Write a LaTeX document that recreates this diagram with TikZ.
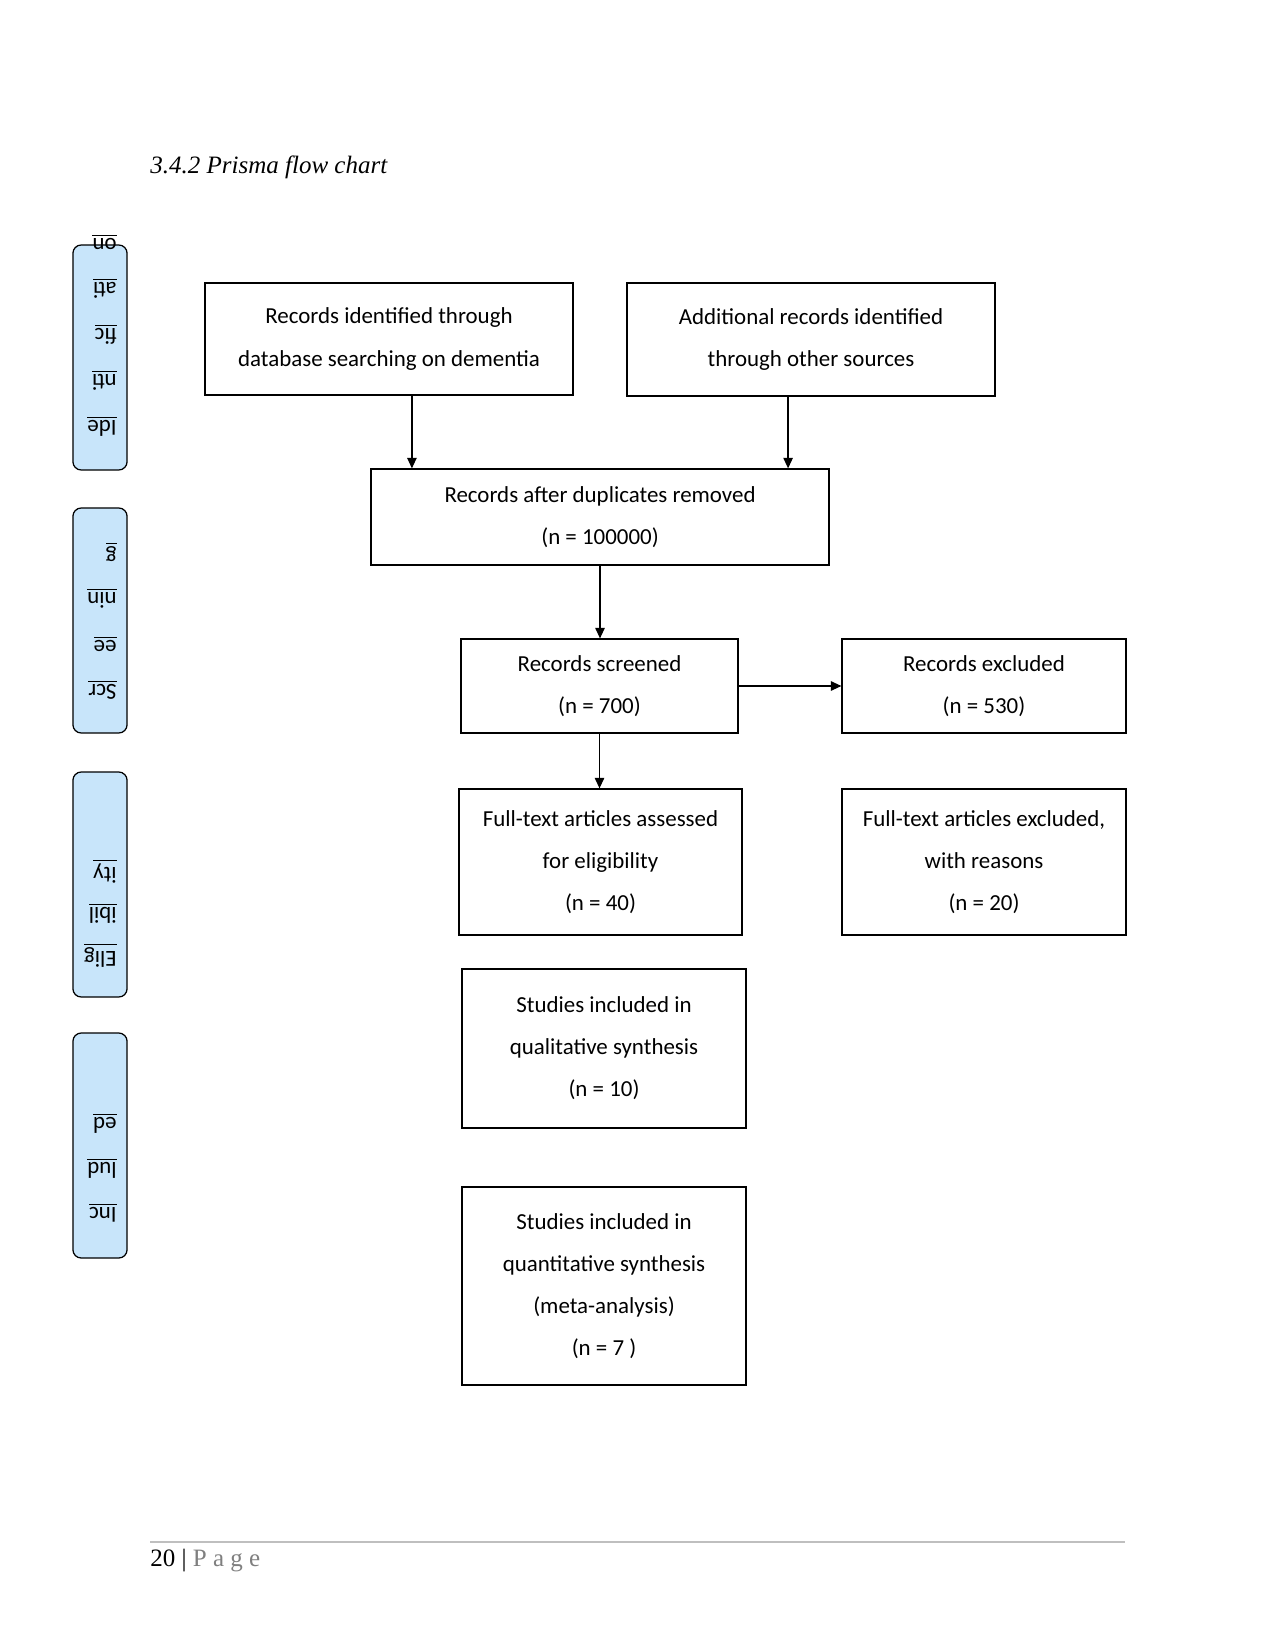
\documentclass[tikz,border=0pt]{standalone}
\usepackage{fontspec}
\setmainfont{Carlito}
\newfontfamily\serifpage{Liberation Serif}
\usepackage{xcolor}
\usetikzlibrary{arrows.meta}
\definecolor{sideblue}{RGB}{200,229,250}
\definecolor{pagegray}{RGB}{127,127,127}
\tikzset{
  flowbox/.style={draw, line width=0.6pt, align=center, inner sep=0pt,
    font=\fontsize{11}{20.2}\selectfont},
  sidebox/.style={draw, line width=0.6pt, fill=sideblue, rounded corners=4pt,
    minimum width=26pt, minimum height=108pt, inner sep=0pt},
  frag/.style={rotate=180, anchor=west, inner sep=0pt, font=\fontsize{11}{13}\selectfont},
  arr/.style={line width=0.6pt, -{Triangle[length=5pt,width=4.5pt]}}
}

\begin{document}
\begin{tikzpicture}[x=0.48pt, y=-0.48pt]
    \useasboundingbox (0, 0) rectangle (1275, 1650);

    \node[anchor=base west, inner sep=0pt, font=\serifpage\fontsize{12}{14}\selectfont\itshape] (title) at (150, 174) {3.4.2 Prisma flow chart};

    \node[sidebox] (ident) at (100, 357.5) {};
    \node[sidebox] (screen) at (100, 620.5) {};
    \node[sidebox] (elig) at (100, 884.5) {};
    \node[sidebox] (incl) at (100, 1145.5) {};

    \foreach \frag [count=\i] in {Ide, nti, fic, ati, on}
        \node[frag] (ident-\i) at (117, 470 - 44 - 46*\i + 46) {\underline{\frag}};
    \foreach \frag [count=\i] in {Scr, ee, nin, g}
        \node[frag] (screen-\i) at (117, 733 - 43 - 46*\i + 46) {\underline{\frag}};
    \foreach \frag [count=\i] in {Elig, ibil, ity}
        \node[frag] (elig-\i) at (117, 997 - 42 - 42*\i + 42) {\underline{\frag}};
    \foreach \frag [count=\i] in {Inc, lud, ed}
        \node[frag] (incl-\i) at (117, 1258 - 45 - 45*\i + 45) {\underline{\frag}};

    \node[flowbox, minimum width=176.6pt, minimum height=53.8pt] (dbrec) at (389, 339)
        {Records identified through\\database searching on dementia};
    \node[flowbox, minimum width=176.6pt, minimum height=54.2pt] (otherrec) at (811, 339.5)
        {Additional records identified\\through other sources};
    \node[flowbox, minimum width=219.8pt, minimum height=46.1pt] (dupl) at (600, 517)
        {Records after duplicates removed\\(n = 100000)};
    \node[flowbox, minimum width=133pt, minimum height=45.1pt] (screened) at (599.5, 686)
        {Records screened\\(n = 700)};
    \node[flowbox, minimum width=136.3pt, minimum height=45.1pt] (excluded) at (984, 686)
        {Records excluded\\(n = 530)};
    \node[flowbox, minimum width=135.8pt, minimum height=70.1pt] (fulltext) at (600.5, 862)
        {Full-text articles assessed\\for eligibility\\(n = 40)};
    \node[flowbox, minimum width=136.3pt, minimum height=70.1pt] (ftexcl) at (984, 862)
        {Full-text articles excluded,\\with reasons\\(n = 20)};
    \node[flowbox, minimum width=136.3pt, minimum height=76.3pt] (qual) at (604, 1048.5)
        {Studies included in\\qualitative synthesis\\(n = 10)};
    \node[flowbox, minimum width=136.3pt, minimum height=95pt] (quant) at (604, 1286)
        {Studies included in\\quantitative synthesis\\(meta-analysis)\\(n = 7 )};

    \draw[arr] ([xshift=11pt]dbrec.south) -- ([xshift=11pt]dbrec.south |- dupl.north);
    \draw[arr] ([xshift=-11pt]otherrec.south) -- ([xshift=-11pt]otherrec.south |- dupl.north);
    \draw[arr] (dupl.south) -- (dupl.south |- screened.north);
    \draw[arr] (screened.east) -- (excluded.west);
    \draw[arr] (screened.south) -- (screened.south |- fulltext.north);

    \draw[line width=0.5pt, black!25] (150, 1542) -- (1125, 1542);
    \node[anchor=base west, inner sep=0pt, font=\serifpage\fontsize{12}{14}\selectfont] (pagenum) at (150, 1566)
        {20 | \textcolor{pagegray}{P\hspace{3pt}a\hspace{3pt}g\hspace{3pt}e}};
\end{tikzpicture}
\end{document}
